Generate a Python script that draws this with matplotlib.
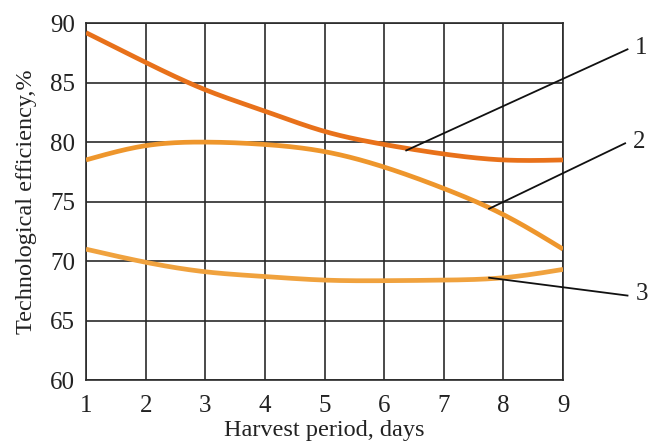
import matplotlib
matplotlib.use('Agg')
import matplotlib.pyplot as plt
import numpy as np

plt.rcParams['font.family'] = ['Liberation Serif', 'DejaVu Serif']

# harvest period, days
days = [1, 2, 3, 4, 5, 6, 7, 8, 9]

# technological efficiency, %
curve1 = [89.2, 86.7, 84.4, 82.6, 80.9, 79.8, 79.0, 78.5, 78.5]
curve2 = [78.5, 79.7, 80.0, 79.8, 79.2, 77.9, 76.1, 73.9, 71.0]
curve3 = [71.0, 69.9, 69.1, 68.7, 68.4, 68.35, 68.4, 68.6, 69.3]

curve_colors = ['#e8711a', '#ee962c', '#f0a23e']

# leader lines: point on curve -> label position
leaders = [((6.37, 79.3), (10.08, 87.8), '1'),
           ((7.76, 74.4), (10.04, 79.9), '2'),
           ((7.76, 68.6), (10.08, 67.1), '3')]

FONT_SIZE = 18


#
# natural cubic spline through the read points, for a smooth curve
#
def smooth(x, y, n=200):
    xs = np.linspace(x[0], x[-1], n)
    x = np.asarray(x, float)
    y = np.asarray(y, float)
    h = np.diff(x)
    m = len(x)
    A = np.zeros((m, m))
    b = np.zeros(m)
    A[0, 0] = A[-1, -1] = 1
    for i in range(1, m - 1):
        A[i, i - 1] = h[i - 1]
        A[i, i] = 2 * (h[i - 1] + h[i])
        A[i, i + 1] = h[i]
        b[i] = 3 * ((y[i + 1] - y[i]) / h[i] - (y[i] - y[i - 1]) / h[i - 1])
    c = np.linalg.solve(A, b)
    ys = np.empty_like(xs)
    for k, xv in enumerate(xs):
        i = min(np.searchsorted(x, xv, side='right') - 1, m - 2)
        dx = xv - x[i]
        bi = (y[i + 1] - y[i]) / h[i] - h[i] * (2 * c[i] + c[i + 1]) / 3
        di = (c[i + 1] - c[i]) / (3 * h[i])
        ys[k] = y[i] + bi * dx + c[i] * dx ** 2 + di * dx ** 3
    return xs, ys


figure = plt.figure(figsize=(6.54, 4.45), dpi=100)
ax = figure.add_axes([0.1315, 0.146, 0.7295, 0.802])

for yData, color in zip([curve1, curve2, curve3], curve_colors):
    xs, ys = smooth(days, yData)
    ax.plot(xs, ys, color=color, linewidth=3.4, solid_capstyle='butt', zorder=3)

for (start, end, label) in leaders:
    ax.plot([start[0], end[0]], [start[1], end[1]], color='#111111',
            linewidth=1.3, clip_on=False, zorder=4)
    ax.text(end[0] + 0.13, end[1] + 0.1, label, fontsize=FONT_SIZE,
            ha='left', va='center', color='#222222', clip_on=False)

ax.set_xlim(1, 9)
ax.set_ylim(60, 90)
ax.set_xticks(days)
ax.set_yticks([60, 65, 70, 75, 80, 85, 90])
ax.tick_params(length=0, labelsize=FONT_SIZE, colors='#222222')
ax.tick_params(axis='x', pad=11)
ax.tick_params(axis='y', pad=8)
ax.grid(color='#2a2a2a', linewidth=1.2)
ax.set_axisbelow(True)
for spine in ax.spines.values():
    spine.set_color('#2a2a2a')
    spine.set_linewidth(1.2)

ax.set_xlabel('Harvest period, days', fontsize=17.5, color='#222222', labelpad=2)
ax.set_ylabel('Technological efficiency,%', fontsize=17.5, color='#222222', labelpad=9)

figure.savefig('out.png', dpi=100)
plt.close(figure)
